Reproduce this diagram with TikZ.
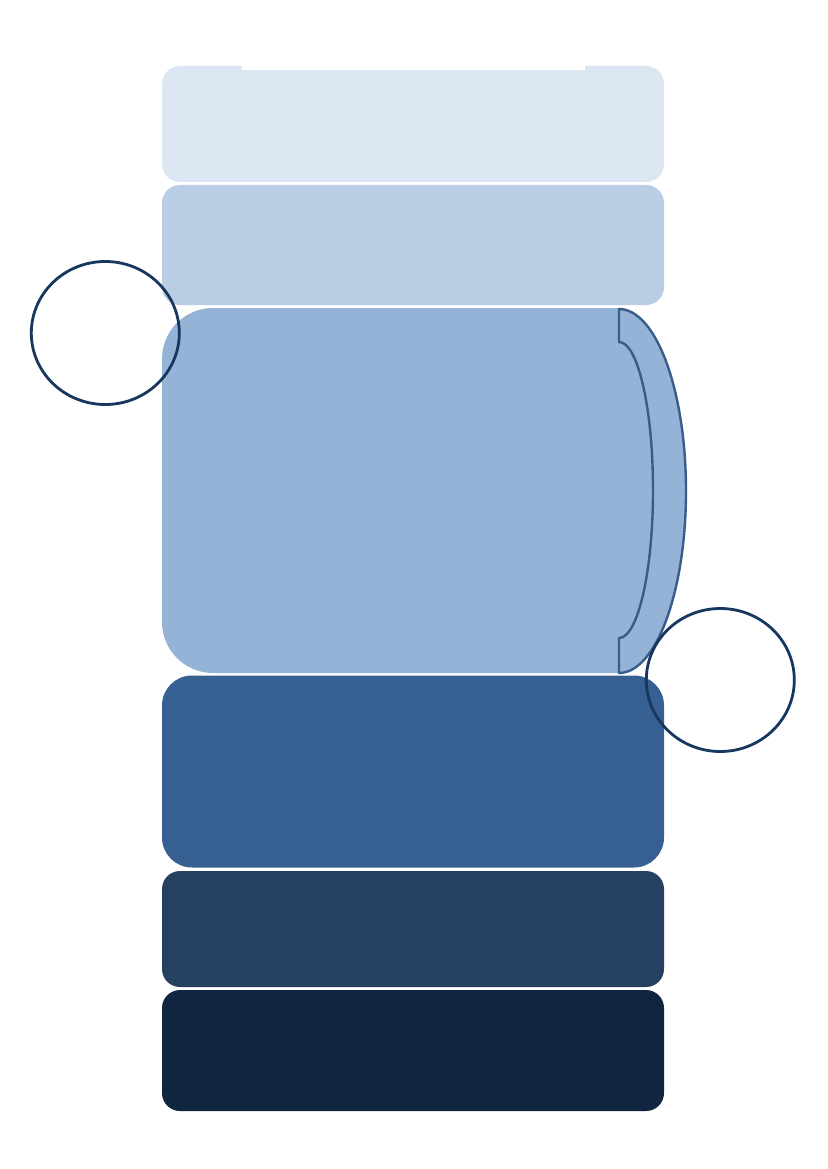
\documentclass[tikz,border=0pt]{standalone}
\usetikzlibrary{shapes.geometric}
\definecolor{cA}{HTML}{DCE6F2}
\definecolor{cB}{HTML}{B9CDE5}
\definecolor{cC}{HTML}{95B3D7}
\definecolor{cD}{HTML}{376092}
\definecolor{cE}{HTML}{254061}
\definecolor{cF}{HTML}{10253F}
\definecolor{cEdge}{HTML}{385D8A}
\definecolor{cRing}{HTML}{17375E}
\begin{document}
\begin{tikzpicture}[x=1pt,y=-1pt,
  band/.style={rectangle, draw=none, inner sep=0pt, minimum width=502pt, rounded corners=18pt},
  ring/.style={ellipse, draw=cRing, line width=2.8pt, fill=none, inner sep=0pt, minimum width=148pt, minimum height=143pt}]
\useasboundingbox (0,0) rectangle (827,1169);
\fill[white] (0,0) rectangle (827,1169);
% bands
\node[band, fill=cA, minimum height=116pt] (b1) at (413,124) {};
\fill[white] (242,64) rectangle (585,70.3);
\node[band, fill=cB, minimum height=120pt] (b2) at (413,245) {};
% big band with large left corners
\fill[cC] (619,308) -- (213,308) arc[start angle=-90, end angle=-180, radius=51]
  -- (162,622) arc[start angle=180, end angle=90, radius=51] -- (619,673) -- cycle;
% curved bracket
\fill[cC] (619,309) arc[start angle=-90, end angle=90, x radius=67, y radius=182] -- cycle;
\draw[cEdge, line width=2.4pt, line join=round] (619,342) -- (619,309)
  arc[start angle=-90, end angle=90, x radius=67, y radius=182]
  -- (619,638) arc[start angle=90, end angle=-90, x radius=34, y radius=148] -- cycle;
\node[band, fill=cD, minimum height=192pt, rounded corners=30pt] (b4) at (413,771.5) {};
\node[band, fill=cE, minimum height=116pt] (b5) at (413,929) {};
\node[band, fill=cF, minimum height=121pt] (b6) at (413,1050.5) {};
% rings
\node[ring] (r1) at (105.3,333) {};
\node[ring] (r2) at (720.3,680) {};
\end{tikzpicture}
\end{document}
